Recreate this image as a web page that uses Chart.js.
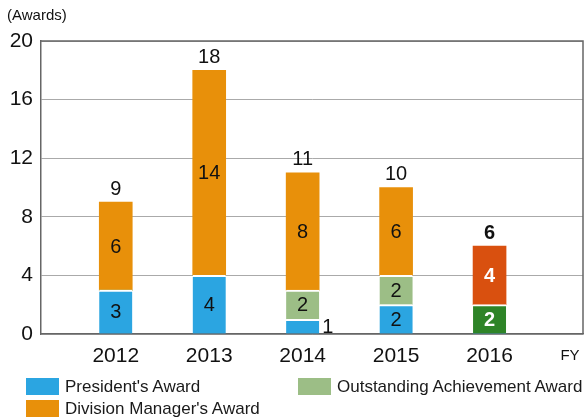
<!DOCTYPE html>
<html>
<head>
<meta charset="utf-8">
<script src="https://cdn.jsdelivr.net/npm/chart.js@4.4.1/dist/chart.umd.min.js"></script>
<style>
  body { margin: 0; background: #fff; font-family: "Liberation Sans", Arial, sans-serif; }
  #wrap { position: relative; width: 584px; height: 419px; }
  #grafico { display: block; }
  #legend { position: absolute; left: 0; top: 0; width: 584px; height: 419px; pointer-events: none; }
  .item { position: absolute; font-size: 17px; color: #1a1a1a; line-height: 18px; white-space: nowrap; }
  .item span { display: inline-block; width: 33px; height: 17px; vertical-align: top; margin-right: 6px; }
</style>
</head>
<body>
<div id="wrap">
  <canvas id="grafico" width="584" height="419"></canvas>
  <div id="legend"></div>
</div>
<script>
// anos fiscais e quantidade de prêmios por categoria
const anos = [2012, 2013, 2014, 2015, 2016];
const presidente = [3, 4, 1, 2, 0];
const destaque = [0, 0, 2, 2, 2];
const divisao = [6, 14, 8, 6, 4];
const totais = [9, 18, 11, 10, 6];
const ticksY = [0, 4, 8, 12, 16, 20];

const nomes = ["President's Award", 'Outstanding Achievement Award', "Division Manager's Award"];
const cores = ['#2ba5e1', '#9cbe86', '#e8900a'];
// 2016 aparece em destaque com cores mais fortes
const cores2016 = ['#2ba5e1', '#2e8427', '#d9500f'];

const fonte = '"Liberation Sans", Arial, sans-serif';

function coresPorAno(i) {
    return anos.map(a => a === 2016 ? cores2016[i] : cores[i]);
}

function pontos(valores) {
    return anos.map((a, k) => ({ x: a, y: valores[k] }));
}

// rótulos dos segmentos e totais
const rotulos = {
    id: 'rotulos',
    afterDatasetsDraw(chart) {
        const ctx = chart.ctx;
        ctx.save();
        ctx.textBaseline = 'middle';
        chart.data.datasets.forEach((ds, i) => {
            const meta = chart.getDatasetMeta(i);
            meta.data.forEach((bar, k) => {
                const v = ds.data[k].y;
                if (!v) return;
                const destaqueAno = anos[k] === 2016;
                ctx.font = (destaqueAno ? 'bold ' : '') + '20px ' + fonte;
                ctx.fillStyle = destaqueAno ? '#fff' : '#111';
                const meio = (bar.y + bar.base) / 2;
                if (Math.abs(bar.base - bar.y) < 20) {
                    ctx.fillStyle = '#111';
                    ctx.textAlign = 'left';
                    ctx.fillText(v, bar.x + bar.width / 2 + 3, meio + 1);
                } else {
                    ctx.textAlign = 'center';
                    ctx.fillText(v, bar.x, meio + 1);
                }
            });
        });
        const yScale = chart.scales.y;
        const xScale = chart.scales.x;
        ctx.textAlign = 'center';
        totais.forEach((t, k) => {
            const destaqueAno = anos[k] === 2016;
            ctx.font = (destaqueAno ? 'bold ' : '') + '20px ' + fonte;
            ctx.fillStyle = '#111';
            ctx.fillText(t, xScale.getPixelForValue(anos[k]), yScale.getPixelForValue(t) - 13);
        });
        // moldura da área do gráfico
        const a = chart.chartArea;
        ctx.strokeStyle = '#666';
        ctx.lineWidth = 1.5;
        ctx.beginPath();
        ctx.moveTo(a.left, a.top);
        ctx.lineTo(a.right, a.top);
        ctx.lineTo(a.right, a.bottom);
        ctx.stroke();
        // unidade dos eixos
        ctx.font = '15px ' + fonte;
        ctx.textAlign = 'left';
        ctx.fillText('(Awards)', 7, 16);
        ctx.textAlign = 'center';
        ctx.fillText('FY', a.right - 13, a.bottom + 22);
        ctx.restore();
    }
};

const borda = { top: 2, right: 0, bottom: 0, left: 0 };

const grafico = new Chart(document.getElementById('grafico'), {
    type: 'bar',
    data: {
        datasets: [
            { label: nomes[0], data: pontos(presidente), backgroundColor: coresPorAno(0), borderColor: '#fff', borderWidth: borda, borderSkipped: false, barThickness: 33 },
            { label: nomes[1], data: pontos(destaque), backgroundColor: coresPorAno(1), borderColor: '#fff', borderWidth: borda, borderSkipped: false, barThickness: 33 },
            { label: nomes[2], data: pontos(divisao), backgroundColor: coresPorAno(2), borderWidth: 0, barThickness: 33 }
        ]
    },
    options: {
        responsive: false,
        animation: false,
        layout: { padding: { top: 41, bottom: 45, left: 0, right: 1 } },
        plugins: { legend: { display: false }, tooltip: { enabled: false } },
        scales: {
            x: {
                type: 'linear',
                stacked: true,
                offset: false,
                min: 2011.2,
                max: 2017,
                grid: { display: false },
                border: { color: '#666', width: 1.5 },
                afterBuildTicks(scale) {
                    scale.ticks = anos.map(a => ({ value: a }));
                },
                afterFit(scale) { scale.height = 40; },
                ticks: {
                    autoSkip: false,
                    maxRotation: 0,
                    padding: 2,
                    color: '#111',
                    font: { family: fonte, size: 21 },
                    callback: v => String(v)
                }
            },
            y: {
                stacked: true,
                min: 0,
                max: 20,
                grid: { color: '#aaa', lineWidth: 1, drawTicks: false },
                border: { color: '#666', width: 1.5 },
                afterBuildTicks(scale) {
                    scale.ticks = ticksY.map(v => ({ value: v }));
                },
                afterFit(scale) { scale.width = 41; },
                ticks: {
                    padding: 8,
                    color: '#111',
                    font: { family: fonte, size: 21 }
                }
            }
        }
    },
    plugins: [rotulos]
});

// legenda em duas colunas
const posLegenda = [[26, 387], [298, 387], [26, 409]];
const legenda = document.getElementById('legend');
nomes.forEach((n, i) => {
    const d = document.createElement('div');
    d.className = 'item';
    d.style.left = posLegenda[i][0] + 'px';
    d.style.top = (posLegenda[i][1] - 9) + 'px';
    d.innerHTML = '<span style="background:' + cores[i] + '"></span>' + n;
    legenda.appendChild(d);
});
</script>
</body>
</html>
